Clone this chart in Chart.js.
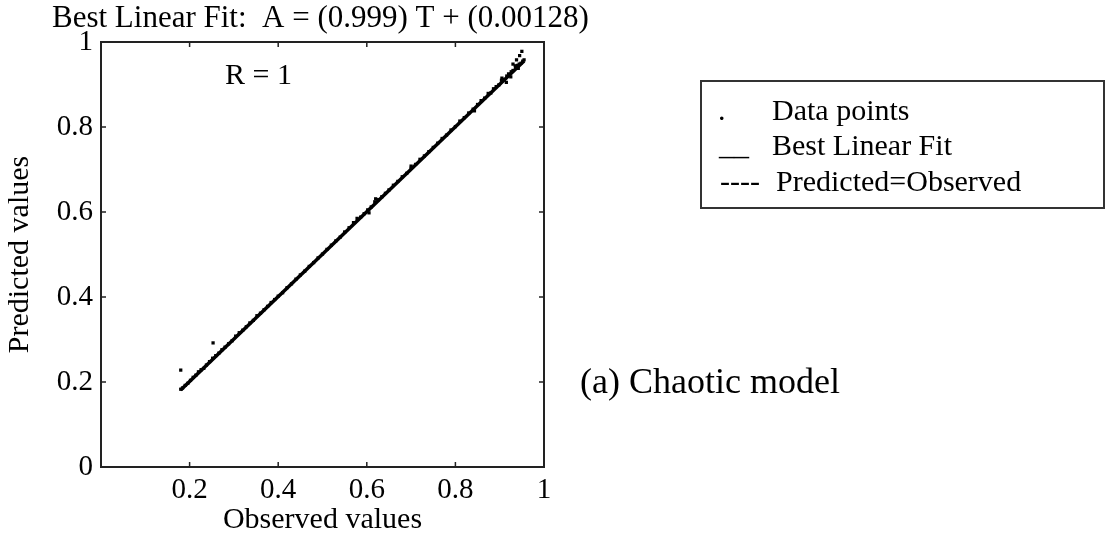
<!DOCTYPE html>
<html>
<head>
<meta charset="utf-8">
<script src="https://cdn.jsdelivr.net/npm/chart.js@4.4.1/dist/chart.umd.min.js"></script>
<style>
  html, body { margin: 0; padding: 0; background: #fff; }
  #wrap { width: 1106px; height: 537px; }
</style>
</head>
<body>
<div id="wrap"><canvas id="c" width="1106" height="537"></canvas></div>
<script>
// ---- data ----
const observed = [
  0.180,0.184,0.190,0.196,0.202,0.208,0.214,0.220,0.226,0.232,0.238,0.245,0.252,0.259,0.266,0.273,0.280,0.288,0.296,0.304,
  0.312,0.320,0.328,0.336,0.344,0.352,0.360,0.368,0.376,0.384,0.392,0.400,0.410,0.420,0.430,0.440,0.450,0.460,0.470,0.480,
  0.490,0.500,0.510,0.520,0.530,0.540,0.550,0.560,0.570,0.578,0.586,0.594,0.602,0.610,0.618,0.626,0.634,0.642,0.650,0.660,
  0.670,0.680,0.690,0.700,0.710,0.720,0.730,0.740,0.750,0.760,0.770,0.780,0.790,0.800,0.810,0.820,0.830,0.840,0.850,0.858,
  0.866,0.874,0.880,0.886,0.892,0.898,0.904,0.910,0.916,0.920,0.926,0.930,0.936,0.940,0.944,0.948,0.952,0.955,
  0.180,0.253,0.950,0.945,0.938,0.930,0.925,0.915,0.620,0.605,0.700,0.843,0.905,0.935,0.942
];
const predicted = [
  0.183,0.186,0.192,0.197,0.204,0.211,0.216,0.224,0.229,0.232,0.240,0.248,0.256,0.262,0.268,0.276,0.282,0.290,0.297,0.308,
  0.316,0.322,0.330,0.339,0.345,0.356,0.362,0.370,0.378,0.387,0.394,0.402,0.410,0.422,0.431,0.442,0.452,0.461,0.472,0.481,
  0.492,0.501,0.512,0.522,0.532,0.541,0.553,0.563,0.575,0.585,0.588,0.596,0.605,0.612,0.624,0.629,0.636,0.644,0.652,0.663,
  0.672,0.683,0.691,0.703,0.712,0.724,0.732,0.742,0.752,0.762,0.773,0.781,0.793,0.801,0.814,0.822,0.833,0.842,0.853,0.862,
  0.868,0.879,0.880,0.890,0.895,0.899,0.910,0.912,0.920,0.925,0.930,0.933,0.940,0.945,0.948,0.950,0.955,0.958,
  0.228,0.292,0.978,0.968,0.958,0.948,0.918,0.905,0.631,0.598,0.708,0.838,0.915,0.944,0.938
];
const fitObserved = [0.18, 0.955];
const fitPredicted = [0.1811, 0.9553];
const idealObserved = [0.18, 0.955];
const idealPredicted = [0.18, 0.955];
const tickValues = [0, 0.2, 0.4, 0.6, 0.8, 1];

const titleText = 'Best Linear Fit:  A = (0.999) T + (0.00128)';
const rText = 'R = 1';
const xTitle = 'Observed values';
const yTitle = 'Predicted values';
const legendLabels = ['Data points', 'Best Linear Fit', 'Predicted=Observed'];
const legendSymbols = ['.', '__', '----'];
const noteText = '(a) Chaotic model';

const SERIF = '"Liberation Serif", "Times New Roman", serif';
const zip = (xs, ys) => xs.map((x, i) => ({ x: x, y: ys[i] }));

const decorPlugin = {
  id: 'decor',
  afterDraw(chart) {
    const ctx = chart.ctx;
    const a = chart.chartArea;
    const xs = chart.scales.x, ys = chart.scales.y;
    ctx.save();
    // frame
    ctx.strokeStyle = '#222';
    ctx.lineWidth = 2;
    ctx.strokeRect(a.left, a.top, a.right - a.left, a.bottom - a.top);
    // inside ticks on all four sides
    ctx.lineWidth = 1.5;
    ctx.beginPath();
    tickValues.forEach(v => {
      if (v <= 0 || v >= 1) return;
      const px = xs.getPixelForValue(v);
      ctx.moveTo(px, a.bottom); ctx.lineTo(px, a.bottom - 5);
      ctx.moveTo(px, a.top); ctx.lineTo(px, a.top + 5);
      const py = ys.getPixelForValue(v);
      ctx.moveTo(a.left, py); ctx.lineTo(a.left + 5, py);
      ctx.moveTo(a.right, py); ctx.lineTo(a.right - 5, py);
    });
    ctx.stroke();

    ctx.fillStyle = '#000';
    ctx.textBaseline = 'alphabetic';
    ctx.textAlign = 'left';
    // title
    ctx.font = '31px ' + SERIF;
    ctx.fillText(titleText, 52, 27);
    // R = 1
    ctx.font = '30px ' + SERIF;
    ctx.fillText(rText, 225, 84);

    // legend box
    ctx.strokeStyle = '#333';
    ctx.lineWidth = 2;
    ctx.strokeRect(701, 81, 403, 127);
    ctx.font = '30px ' + SERIF;
    ctx.fillText(legendSymbols[0], 718, 120);
    ctx.fillText(legendLabels[0], 772, 120);
    ctx.fillText(legendSymbols[1], 719, 155);
    ctx.fillText(legendLabels[1], 772, 155);
    ctx.fillText(legendSymbols[2], 720, 191);
    ctx.fillText(legendLabels[2], 776, 191);

    // note
    ctx.font = '36px ' + SERIF;
    ctx.fillText(noteText, 580, 393);
    ctx.restore();
  }
};

new Chart(document.getElementById('c'), {
  type: 'scatter',
  data: {
    datasets: [
      {
        label: legendLabels[2],
        data: zip(idealObserved, idealPredicted),
        showLine: true,
        borderColor: '#000',
        borderWidth: 1.5,
        borderDash: [5, 3],
        pointRadius: 0,
        order: 3
      },
      {
        label: legendLabels[1],
        data: zip(fitObserved, fitPredicted),
        showLine: true,
        borderColor: '#000',
        borderWidth: 3.5,
        pointRadius: 0,
        order: 2
      },
      {
        label: legendLabels[0],
        data: zip(observed, predicted),
        showLine: false,
        pointStyle: 'rect',
        pointRadius: 2.3,
        pointBorderWidth: 0,
        backgroundColor: '#000',
        borderColor: '#000',
        order: 1
      }
    ]
  },
  options: {
    responsive: false,
    animation: false,
    events: [],
    layout: { padding: { left: 0, right: 562, top: 42, bottom: 0 } },
    plugins: { legend: { display: false }, tooltip: { enabled: false }, title: { display: false } },
    scales: {
      x: {
        type: 'linear', min: 0, max: 1,
        afterFit(s) { s.height = 70; },
        afterBuildTicks(s) { s.ticks = tickValues.map(v => ({ value: v })); },
        grid: { display: false, drawTicks: false },
        border: { display: false },
        ticks: {
          color: '#000', padding: 6, maxRotation: 0, autoSkip: false,
          font: { family: SERIF, size: 29 },
          callback: v => (v === 0 ? '' : String(v))
        },
        title: {
          display: true, text: xTitle, color: '#000',
          font: { family: SERIF, size: 30, lineHeight: 1 }, padding: { top: 0, bottom: 2 }
        }
      },
      y: {
        type: 'linear', min: 0, max: 1,
        afterFit(s) { s.width = 101; },
        afterBuildTicks(s) { s.ticks = tickValues.map(v => ({ value: v })); },
        grid: { display: false, drawTicks: false },
        border: { display: false },
        ticks: {
          color: '#000', padding: 8, autoSkip: false,
          font: { family: SERIF, size: 29 },
          callback: v => String(v)
        },
        title: {
          display: true, text: yTitle, color: '#000',
          font: { family: SERIF, size: 30, lineHeight: 1 }, padding: { top: 5, bottom: 0 }
        }
      }
    }
  },
  plugins: [decorPlugin]
});
</script>
</body>
</html>
